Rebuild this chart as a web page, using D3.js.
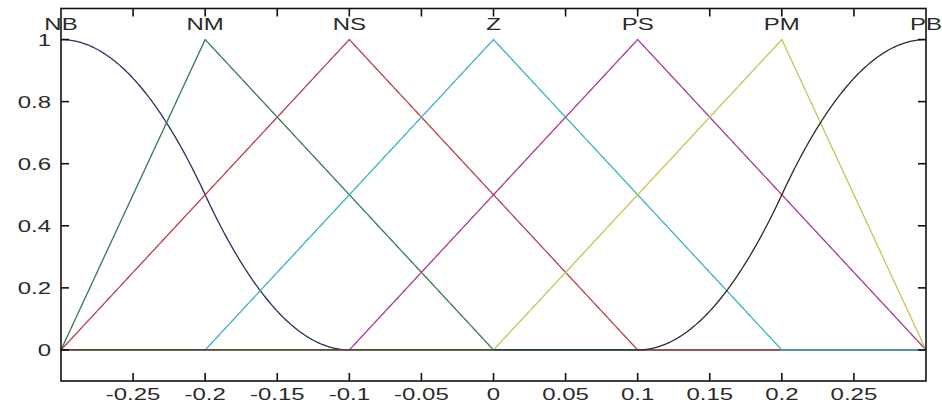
<!DOCTYPE html>
<html>
<head>
<meta charset="utf-8">
<script src="https://cdn.jsdelivr.net/npm/d3@7"></script>
<style>
  html, body { margin: 0; padding: 0; background: #fff; }
  svg { display: block; }
  text { font-family: "Liberation Sans", Arial, Helvetica, sans-serif; }
</style>
</head>
<body>
<svg id="chart" width="942" height="407"></svg>
<script>
// Membership functions of the fuzzy variable
const mfNames  = ["NB", "NM", "NS", "Z", "PS", "PM", "PB"];
const mfTypes  = ["zmf", "trimf", "trimf", "trimf", "trimf", "trimf", "smf"];
const mfParams = [
  [-0.3, -0.1],
  [-0.3, -0.2, 0],
  [-0.3, -0.1, 0.1],
  [-0.2, 0, 0.2],
  [-0.1, 0.1, 0.3],
  [0, 0.2, 0.3],
  [0.1, 0.3]
];
const mfLabelX = [-0.3, -0.2, -0.1, 0, 0.1, 0.2, 0.3];
const mfColors = ["#2a2f5e", "#357a52", "#b8404e", "#38b4c6", "#a03c98", "#c8c454", "#2b2b2b"];

const xRange = [-0.3, 0.3];
const yRange = [-0.1, 1.1];
const xTicks = [-0.25, -0.2, -0.15, -0.1, -0.05, 0, 0.05, 0.1, 0.15, 0.2, 0.25];
const yTicks = [0, 0.2, 0.4, 0.6, 0.8, 1];
const xTickLabels = ["-0.25", "-0.2", "-0.15", "-0.1", "-0.05", "0", "0.05", "0.1", "0.15", "0.2", "0.25"];
const yTickLabels = ["0", "0.2", "0.4", "0.6", "0.8", "1"];

// Plot box
const box = { left: 61, right: 926, top: 8.5, bottom: 381 };
const textStretch = 1.5;

const svg = d3.select("#chart");
const x = d3.scaleLinear().domain(xRange).range([box.left, box.right]);
const y = d3.scaleLinear().domain(yRange).range([box.bottom, box.top]);

// Standard MF shapes
function trimf(v, [a, b, c]) {
  if (v <= a || v >= c) return (v === b) ? 1 : 0;
  return v <= b ? (v - a) / (b - a) : (c - v) / (c - b);
}
function smf(v, [a, b]) {
  if (v <= a) return 0;
  if (v >= b) return 1;
  const m = (a + b) / 2;
  return v <= m ? 2 * Math.pow((v - a) / (b - a), 2)
                : 1 - 2 * Math.pow((v - b) / (b - a), 2);
}
function zmf(v, p) { return 1 - smf(v, p); }
const shapes = { trimf, smf, zmf };

// Evaluation grid over the universe, plus every breakpoint
const grid = d3.range(0, 601).map(i => +(xRange[0] + i * 0.001).toFixed(4));
const sampleX = Array.from(new Set(grid.concat(mfParams.flat()))).sort((a, b) => a - b)
  .filter(v => v >= xRange[0] && v <= xRange[1]);

const line = d3.line().x(d => x(d[0])).y(d => y(d[1]));

const plot = svg.append("g");
mfNames.forEach((name, i) => {
  const f = shapes[mfTypes[i]];
  const pts = sampleX.map(v => [v, f(v, mfParams[i])]);
  plot.append("path")
    .attr("d", line(pts))
    .attr("fill", "none")
    .attr("stroke", mfColors[i])
    .attr("stroke-width", 1.3)
    .attr("stroke-linejoin", "round");
});

// Axes box with inward ticks on all four sides
const axisG = svg.append("g").attr("stroke", "#111").attr("stroke-width", 1.6);
axisG.append("rect")
  .attr("x", box.left).attr("y", box.top)
  .attr("width", box.right - box.left).attr("height", box.bottom - box.top)
  .attr("fill", "none");

const tickLen = 8;
xTicks.forEach(t => {
  axisG.append("line").attr("x1", x(t)).attr("x2", x(t)).attr("y1", box.bottom).attr("y2", box.bottom - tickLen);
  axisG.append("line").attr("x1", x(t)).attr("x2", x(t)).attr("y1", box.top).attr("y2", box.top + tickLen);
});
yTicks.forEach(t => {
  axisG.append("line").attr("x1", box.left).attr("x2", box.left + tickLen).attr("y1", y(t)).attr("y2", y(t));
  axisG.append("line").attr("x1", box.right).attr("x2", box.right - tickLen).attr("y1", y(t)).attr("y2", y(t));
});

// Tick labels
const labelG = svg.append("g").attr("fill", "#2a2a2a").attr("font-size", 16);
xTicks.forEach((t, i) => {
  labelG.append("text")
    .attr("transform", `translate(${x(t)},400) scale(${textStretch},1)`)
    .attr("text-anchor", "middle")
    .text(xTickLabels[i]);
});
yTicks.forEach((t, i) => {
  labelG.append("text")
    .attr("transform", `translate(51,${y(t) + 6}) scale(${textStretch},1)`)
    .attr("text-anchor", "end")
    .text(yTickLabels[i]);
});

// MF names above each peak
mfNames.forEach((name, i) => {
  labelG.append("text")
    .attr("transform", `translate(${x(mfLabelX[i])},30) scale(${textStretch},1)`)
    .attr("text-anchor", "middle")
    .text(name);
});
</script>
</body>
</html>
